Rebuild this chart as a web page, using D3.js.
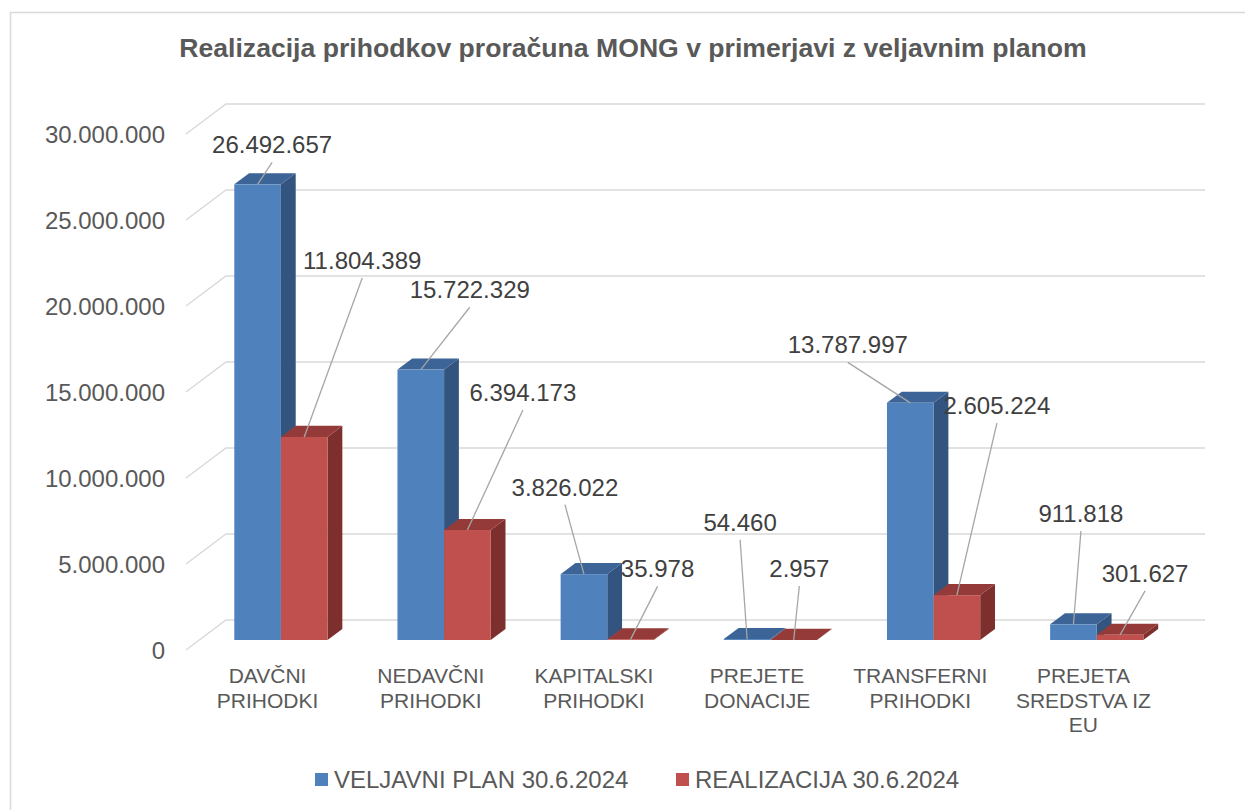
<!DOCTYPE html>
<html>
<head>
<meta charset="utf-8">
<script src="https://cdn.jsdelivr.net/npm/d3@7"></script>
<style>
  html, body { margin: 0; padding: 0; background: #fff; }
  svg { display: block; font-family: "Liberation Sans", Arial, sans-serif; }
</style>
</head>
<body>
<svg id="chart" width="1245" height="810"></svg>
<script>
// ---------- data ----------
const title = "Realizacija prihodkov proračuna MONG v primerjavi z veljavnim planom";
const categories = ["DAVČNI\nPRIHODKI", "NEDAVČNI\nPRIHODKI", "KAPITALSKI\nPRIHODKI",
                    "PREJETE\nDONACIJE", "TRANSFERNI\nPRIHODKI", "PREJETA\nSREDSTVA IZ\nEU"];
const seriesNames = ["VELJAVNI PLAN 30.6.2024", "REALIZACIJA 30.6.2024"];
const planValues = [26492657, 15722329, 3826022, 54460, 13787997, 911818];
const realValues = [11804389, 6394173, 35978, 2957, 2605224, 301627];
const yTicks = [0, 5000000, 10000000, 15000000, 20000000, 25000000, 30000000];

// ---------- layout (manually placed data labels: offset of label centre/baseline from bar top) ----------
const planLabelOffsets = [[14.5, -31], [49, -71.3], [-19, -78.5], [-7, -108.3], [-62.5, -49.5], [7.5, -102.3]];
const realLabelOffsets = [[58, -168], [55.5, -129], [27, -62], [5.6, -63], [40, -181], [25, -53]];

const colors = {
  front: ["#4F81BD", "#C0504D"],
  top:   ["#3C6496", "#943B39"],
  side:  ["#32547F", "#7C2F2D"]
};

// ---------- scales ----------
const svg = d3.select("#chart");
const fmt = d3.formatLocale({decimal: ",", thousands: ".", grouping: [3], currency: ["", ""]}).format(",d");

const DX = 40, DY = 30;             // full depth offset of the back wall
const barD0 = 1/3, barDD = 0.37;    // bar front depth & bar depth (fraction)

const y = d3.scaleLinear().domain([0, 30000000]).range([650, 134]);
const x = d3.scaleBand().domain(categories).range([186, 1165]).padding(0);
const xs = d3.scaleBand().domain([0, 1]).range([0, x.bandwidth()]).paddingInner(0).paddingOuter(0.75);
const proj = (px, py, d) => [px + DX * d, py - DY * d];

// ---------- chart frame ----------
svg.append("rect").attr("x", 10.5).attr("y", 12.5).attr("width", 1400).attr("height", 1000)
  .attr("fill", "none").attr("stroke", "#D9D9D9").attr("stroke-width", 1.5);

// ---------- title ----------
svg.append("text").attr("x", 633).attr("y", 57).attr("text-anchor", "middle")
  .attr("font-size", 26.6).attr("font-weight", "bold").attr("fill", "#595959").text(title);

// ---------- gridlines (side wall diagonal + back wall) ----------
const grid = svg.append("g").attr("stroke", "#D9D9D9").attr("stroke-width", 1.5).attr("fill", "none");
yTicks.forEach(t => {
  const f = proj(x.range()[0], y(t), 0), b = proj(x.range()[0], y(t), 1), e = proj(x.range()[1], y(t), 1);
  grid.append("path").attr("d", `M${f[0]},${f[1]}L${b[0]},${b[1]}L${e[0]},${e[1]}`);
});

// ---------- y tick labels ----------
svg.append("g").selectAll("text").data(yTicks).join("text")
  .attr("x", 165).attr("y", d => y(d)).attr("dy", "0.36em").attr("text-anchor", "end")
  .attr("font-size", 24).attr("fill", "#595959").text(d => fmt(d));

// ---------- 3D bars ----------
const bars = svg.append("g");
const seriesValues = [planValues, realValues];
categories.forEach((c, i) => {
  [0, 1].forEach(s => {
    const v = seriesValues[s][i];
    const x0 = x(c) + xs(s), x1 = x0 + xs.bandwidth();
    const [fx0, ft] = proj(x0, y(v), barD0);
    const [fx1, fb] = proj(x1, y(0), barD0);
    const ox = DX * barDD, oy = DY * barDD;
    const g = bars.append("g");
    g.append("path").attr("fill", colors.side[s])
      .attr("d", `M${fx1},${ft}L${fx1 + ox},${ft - oy}L${fx1 + ox},${fb - oy}L${fx1},${fb}Z`);
    g.append("path").attr("fill", colors.top[s])
      .attr("d", `M${fx0},${ft}L${fx1},${ft}L${fx1 + ox},${ft - oy}L${fx0 + ox},${ft - oy}Z`);
    g.append("rect").attr("fill", colors.front[s])
      .attr("x", fx0).attr("y", ft).attr("width", fx1 - fx0).attr("height", Math.max(0, fb - ft));
  });
});

// ---------- data labels with leader lines ----------
const labels = svg.append("g");
categories.forEach((c, i) => {
  [0, 1].forEach(s => {
    const v = seriesValues[s][i];
    const off = (s === 0 ? planLabelOffsets : realLabelOffsets)[i];
    const x0 = x(c) + xs(s);
    const [ax, ay] = proj(x0 + xs.bandwidth() / 2, y(v), barD0);
    const lx = ax + off[0], ly = ay + off[1];
    labels.append("line").attr("x1", lx).attr("y1", ly + 9).attr("x2", ax).attr("y2", ay)
      .attr("stroke", "#A6A6A6").attr("stroke-width", 1.3);
    labels.append("text").attr("x", lx).attr("y", ly).attr("text-anchor", "middle")
      .attr("font-size", 24).attr("fill", "#404040").text(fmt(v));
  });
});

// ---------- category labels ----------
const cat = svg.append("g");
categories.forEach(c => {
  const t = cat.append("text").attr("text-anchor", "middle").attr("font-size", 21).attr("fill", "#595959");
  c.split("\n").forEach((line, k) => {
    t.append("tspan").attr("x", x(c) + x.bandwidth() / 2).attr("y", 683 + k * 24.5).text(line);
  });
});

// ---------- legend ----------
const legendPos = [315, 676];
const leg = svg.append("g");
seriesNames.forEach((n, s) => {
  leg.append("rect").attr("x", legendPos[s]).attr("y", 773).attr("width", 13).attr("height", 13)
    .attr("fill", colors.front[s]);
  leg.append("text").attr("x", legendPos[s] + 19).attr("y", 787.5).attr("font-size", 24)
    .attr("fill", "#595959").text(n);
});
</script>
</body>
</html>
